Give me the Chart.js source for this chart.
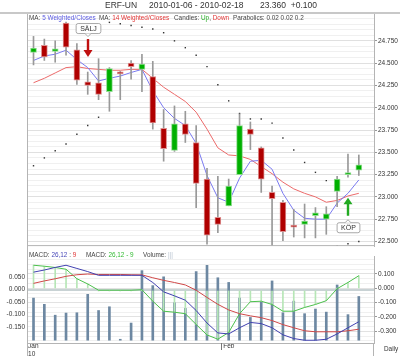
<!DOCTYPE html>
<html><head><meta charset="utf-8">
<script src="https://cdn.jsdelivr.net/npm/chart.js@4.4.1/dist/chart.umd.min.js"></script>
<style>
html,body{margin:0;padding:0;background:#fff}
body{width:400px;height:356px;position:relative;overflow:hidden;font-family:"Liberation Sans",Arial,Helvetica,sans-serif}
canvas{position:absolute;left:0}
#main{top:0}
#macd{top:251px}
.t{position:absolute;white-space:nowrap;line-height:1;color:#444}
</style></head><body>
<canvas id="main" width="400" height="251"></canvas>
<canvas id="macd" width="400" height="105"></canvas>
<div style="position:absolute;left:0;top:12px;width:400px;height:2px;background:#c8c8c8"></div>
<div class="t" style="left:105px;top:1px;font-size:8.5px;color:#333">ERF-UN</div>
<div class="t" style="left:149px;top:1px;font-size:8.5px;color:#333">2010-01-06 - 2010-02-18</div>
<div class="t" style="left:260px;top:1px;font-size:8.5px;color:#333">23.360&nbsp;&nbsp;+0.100</div>
<div class="t" style="left:29px;top:15px;font-size:6.4px">MA: <span style="color:#5a5ae0">5 Weighted/Closes</span></div>
<div class="t" style="left:99px;top:15px;font-size:6.4px">MA: <span style="color:#e03434">14 Weighted/Closes</span></div>
<div class="t" style="left:174px;top:15px;font-size:6.4px">Candles: <span style="color:#22aa22">Up</span>, <span style="color:#e03434">Down</span></div>
<div class="t" style="left:233px;top:15px;font-size:6.4px">Parabolics: 0.02 0.02 0.2</div>
<div class="t" style="left:29px;top:252px;font-size:6.4px">MACD: <span style="color:#4848b8">26,12</span> : <span style="color:#e03434">9</span></div>
<div class="t" style="left:86px;top:252px;font-size:6.4px">MACD: <span style="color:#33bb33">26,12 - 9</span></div>
<div class="t" style="left:143px;top:252px;font-size:6.4px">Volume: <span style="color:#b8c4d0">|||</span></div>
<div class="t" style="left:384px;top:346px;font-size:6.4px;color:#333">Daily</div>
<script>
// ---- data ----
const dates = ['2010-01-06','2010-01-07','2010-01-08','2010-01-11','2010-01-12','2010-01-13','2010-01-14','2010-01-15','2010-01-18','2010-01-19','2010-01-20','2010-01-21','2010-01-22','2010-01-25','2010-01-26','2010-01-27','2010-01-28','2010-01-29','2010-02-01','2010-02-02','2010-02-03','2010-02-04','2010-02-05','2010-02-08','2010-02-09','2010-02-10','2010-02-11','2010-02-12','2010-02-16','2010-02-17','2010-02-18'];
const open  = [24.62,24.70,24.63,24.95,24.65,24.29,24.28,24.18,24.40,24.50,24.43,24.35,23.77,23.52,23.82,23.61,23.20,22.77,22.90,23.25,23.76,23.55,23.05,22.94,22.68,22.69,22.79,22.75,23.06,23.25,23.30];
const high  = [24.80,24.77,24.75,24.96,24.72,24.40,24.55,24.45,24.41,24.53,24.60,24.52,23.98,24.02,23.96,23.80,23.32,23.23,23.20,23.93,23.84,23.56,23.12,22.96,22.86,22.92,22.88,22.89,23.23,23.48,23.47];
const low   = [24.48,24.53,24.51,24.59,24.26,24.15,24.09,23.96,24.09,24.32,24.18,23.76,23.40,23.51,23.61,22.88,22.47,22.60,22.90,23.25,23.53,23.05,22.45,22.51,22.55,22.54,22.54,22.58,22.89,23.22,23.24];
const close = [24.67,24.57,24.66,24.68,24.31,24.25,24.15,24.44,24.38,24.46,24.49,23.83,23.54,23.82,23.70,23.15,22.57,22.69,23.12,23.80,23.70,23.20,22.98,22.61,22.66,22.73,22.82,22.81,23.20,23.26,23.36];
const ma5   = [24.53,24.58,24.60,24.645,24.54,24.45,24.30,24.33,24.355,24.395,24.43,24.19,24.00,23.88,23.80,23.60,23.24,22.99,22.94,23.21,23.40,23.41,23.31,23.04,22.85,22.76,22.75,22.75,22.93,23.04,23.19];
const ma14  = [24.28,24.33,24.39,24.45,24.46,24.44,24.43,24.42,24.42,24.43,24.43,24.33,24.23,24.15,24.07,23.95,23.76,23.55,23.47,23.46,23.42,23.34,23.26,23.165,23.09,23.04,23.00,22.94,22.96,23.01,23.04];
const sar   = [23.349,23.437,23.518,23.593,23.702,23.801,23.893,24.957,24.941,24.922,24.902,24.882,24.841,24.750,24.673,24.588,24.461,24.257,24.077,23.935,23.874,23.874,23.827,23.661,23.526,23.386,23.275,23.182,22.45,22.475,22.50];
const macd  = [0.112,0.127,0.145,0.160,0.138,0.116,0.090,0.090,0.090,0.090,0.090,0.040,-0.025,-0.053,-0.083,-0.155,-0.242,-0.311,-0.318,-0.275,-0.238,-0.246,-0.275,-0.324,-0.350,-0.362,-0.362,-0.355,-0.318,-0.275,-0.233];
const signal= [0.034,0.051,0.066,0.083,0.094,0.099,0.096,0.096,0.096,0.094,0.093,0.073,0.055,0.040,0.023,-0.014,-0.064,-0.112,-0.151,-0.177,-0.192,-0.205,-0.225,-0.253,-0.275,-0.296,-0.303,-0.303,-0.303,-0.296,-0.285];
const hist  = [0.097,0.093,0.088,0.081,0.043,0.022,-0.003,-0.003,-0.003,-0.003,-0.001,-0.047,-0.087,-0.091,-0.097,-0.140,-0.182,-0.199,-0.172,-0.097,-0.049,-0.047,-0.060,-0.087,-0.087,-0.072,-0.060,-0.045,0.003,0.028,0.055];
const volume= [1125,958,668,725,733,1225,793,893,25,458,1858,1458,1693,1000,850,1833,2000,1668,1543,1125,608,1018,1583,733,1043,708,833,750,1475,683,1168];
const priceTicks = [22.5,22.75,23.0,23.25,23.5,23.75,24.0,24.25,24.5,24.75];
const histTicks  = [-0.15,-0.1,-0.05,0,0.05];
const macdTicks  = [-0.3,-0.2,-0.1,0,0.1];
const signals = [{i:5, label:'SÄLJ', dir:'sell'}, {i:29, label:'KÖP', dir:'buy'}];

const FONT = '"Liberation Sans", Arial, sans-serif';
const pts = arr => arr.map((v,i)=>({x:i,y:v}));
const UP='#00b000', DOWN='#b00000';
const isUp = i => close[i] >= open[i];

function minorTicks(lo, hi, step){ const out=[]; for(let k=Math.ceil(lo/step-1e-9); k*step<=hi+1e-9; k++) out.push(+(k*step).toFixed(6)); return out; }
const isIn = (v, arr) => arr.some(t=>Math.abs(t-v)<1e-6);

const frame = {
  id:'frame',
  afterDraw(chart, args, opts){
    const {ctx, chartArea:a} = chart;
    ctx.save();
    ctx.strokeStyle = '#b4b4b4'; ctx.lineWidth = 1;
    if (opts.main) {
      ctx.beginPath(); ctx.moveTo(a.left+0.5, a.top); ctx.lineTo(a.left+0.5, chart.height); ctx.stroke();
      ctx.beginPath(); ctx.moveTo(a.left, a.bottom-0.5); ctx.lineTo(a.right, a.bottom-0.5); ctx.stroke();
      const xs = chart.scales.x, ys = chart.scales.y;
      signals.forEach(s=>{
        const x = Math.round(xs.getPixelForValue(s.i));
        ctx.font = '7px ' + FONT;
        const tw = ctx.measureText(s.label).width;
        const bw = tw + 8, bh = 10;
        if (s.dir==='sell') {
          const tip = ys.getPixelForValue(high[s.i]) - 15;
          ctx.fillStyle = '#c01010';
          ctx.fillRect(x-1.2, tip-18, 2.4, 12);
          ctx.beginPath(); ctx.moveTo(x-4.5, tip-7); ctx.lineTo(x+4.5, tip-7); ctx.lineTo(x, tip); ctx.closePath(); ctx.fill();
          const bb = tip - 24, bt = bb - bh;
          drawBox(ctx, x, bt, bw, bh, 'down', s.label);
        } else {
          const tip = ys.getPixelForValue(low[s.i]) + 20.5;
          ctx.fillStyle = '#22aa22';
          ctx.fillRect(x-1.2, tip+6, 2.4, 12);
          ctx.beginPath(); ctx.moveTo(x-4.5, tip+6.5); ctx.lineTo(x+4.5, tip+6.5); ctx.lineTo(x, tip); ctx.closePath(); ctx.fill();
          drawBox(ctx, x, tip+24.5, bw, bh, 'up', s.label);
        }
      });
    } else {
      ctx.beginPath(); ctx.moveTo(a.left, a.bottom+0.5); ctx.lineTo(a.right, a.bottom+0.5); ctx.stroke();
      ctx.beginPath(); ctx.moveTo(a.left+0.5, 0); ctx.lineTo(a.left+0.5, chart.height); ctx.stroke();
      ctx.beginPath(); ctx.moveTo(a.right-0.5, a.bottom); ctx.lineTo(a.right-0.5, chart.height); ctx.stroke();
      const xs = chart.scales.x;
      xs.ticks.forEach((t,k)=>{ if(k>0){ const px=Math.round(xs.getPixelForValue(t.value))-1.5; ctx.strokeStyle='#777'; ctx.beginPath(); ctx.moveTo(px,a.bottom); ctx.lineTo(px,a.bottom+7); ctx.stroke(); }});
    }
    ctx.restore();
  }
};
function drawBox(ctx, cx, top, w, h, ptr, label){
  const l = cx - w/2;
  ctx.save();
  ctx.fillStyle = '#fff'; ctx.strokeStyle = '#a8a8a8'; ctx.lineWidth = 1;
  ctx.beginPath();
  if (ctx.roundRect) ctx.roundRect(l+0.5, top+0.5, w, h, 2); else ctx.rect(l+0.5, top+0.5, w, h);
  ctx.fill(); ctx.stroke();
  ctx.beginPath();
  if (ptr==='down'){ ctx.moveTo(cx-3, top+h+0.5); ctx.lineTo(cx, top+h+3.5); ctx.lineTo(cx+3, top+h+0.5); }
  else { ctx.moveTo(cx-3, top+0.5); ctx.lineTo(cx, top-2.5); ctx.lineTo(cx+3, top+0.5); }
  ctx.fill(); ctx.stroke();
  ctx.fillStyle = '#333'; ctx.font = '7px ' + FONT; ctx.textAlign='center'; ctx.textBaseline='middle';
  ctx.fillText(label, cx+0.5, top + h/2 + 1);
  ctx.restore();
}

Chart.defaults.font.family = FONT;

new Chart(document.getElementById('main'), {
  type: 'bar',
  data: { datasets: [
    {type:'line', data: pts(sar), showLine:false, pointRadius:1, pointStyle:'rect', pointBackgroundColor:'#333', pointBorderWidth:0, order:5},
    {type:'line', data: pts(ma14), borderColor:'#ec6a6a', borderWidth:1, pointRadius:0, tension:0, order:4},
    {type:'line', data: pts(ma5), borderColor:'#7a7af0', borderWidth:1, pointRadius:0, tension:0, order:3},
    {type:'bar', data: low.map((l,i)=>({x:i, y:[l, high[i]]})), barThickness:1, backgroundColor:'#999', grouped:false, order:2},
    {type:'bar', data: open.map((o,i)=>({x:i, y:[o, close[i]]})), barThickness:6, minBarLength:2, grouped:false, borderSkipped:false, borderWidth:1,
      backgroundColor: open.map((o,i)=>isUp(i)?UP:DOWN), borderColor: open.map((o,i)=>isUp(i)?'#8fdc8f':'#dc9090'), order:1}
  ]},
  options: {
    responsive:false, animation:false, devicePixelRatio:1, events:[],
    layout:{padding:{left:27, top:14, right:0, bottom:1}},
    plugins:{legend:{display:false}, tooltip:{enabled:false}, frame:{main:true}},
    scales:{
      x:{type:'linear', display:false, offset:false, min:-0.6, max:dates.length+0.4},
      y:{position:'right', min:22.448, max:25.051,
        afterBuildTicks: s => { s.ticks = minorTicks(22.448, 25.051, 0.0625).map(v=>({value:v})); },
        afterFit: s => { s.width = 26; },
        ticks:{ font:{size:6.5}, color:'#333', padding:1, autoSkip:false,
          callback: v => isIn(v, priceTicks) ? v.toFixed(3) : '' },
        grid:{ color: c => isIn(c.tick.value, priceTicks) ? '#e0e0e0' : '#f0f0f0', tickLength:3,
          tickColor: c => isIn(c.tick.value, priceTicks) ? '#999' : 'rgba(0,0,0,0)' },
        border:{color:'#b4b4b4', width:1}
      }
    }
  },
  plugins:[frame]
});

const monthNames = ['Jan','Feb','Mar','Apr','May','Jun','Jul','Aug','Sep','Oct','Nov','Dec'];
const monthStarts = dates.map((d,i)=>i).filter(i => i===0 || dates[i].slice(5,7)!==dates[i-1].slice(5,7));
function monthLabel(v){
  const i = Math.round(v+0.5);
  const m = monthNames[+dates[i].slice(5,7)-1];
  return i===0 ? [m, dates[i].slice(2,4)] : m;
}

new Chart(document.getElementById('macd'), {
  type: 'bar',
  data: { datasets: [
    {type:'bar', yAxisID:'yV', data: pts(volume), barThickness:2, backgroundColor:'#6d88a2', grouped:false, order:6},
    {type:'bar', yAxisID:'yL', data: pts(hist), barThickness:1, backgroundColor:'#b6e6b6', grouped:false, order:5},
    {type:'line', yAxisID:'yL', data: pts(hist), borderColor:'#4cc04c', borderWidth:1, pointRadius:0, tension:0, order:4},
    {type:'line', yAxisID:'yR', data: pts(signal), borderColor:'#d04848', borderWidth:1, pointRadius:0, tension:0, order:3},
    {type:'line', yAxisID:'yR', data: pts(macd), borderColor:'#4040b0', borderWidth:1, pointRadius:0, tension:0, order:2}
  ]},
  options: {
    responsive:false, animation:false, devicePixelRatio:1, events:[],
    layout:{padding:0},
    plugins:{legend:{display:false}, tooltip:{enabled:false}, frame:{main:false}},
    scales:{
      x:{type:'linear', position:'bottom', offset:false, min:-0.6, max:dates.length+0.4,
        afterBuildTicks: s => { s.ticks = monthStarts.map(i=>({value:i-0.5})); },
        afterFit: s => { s.height = 13; },
        ticks:{ autoSkip:false, maxRotation:0, minRotation:0, align:'start', padding:0, font:{size:6.5, lineHeight:1.1}, color:'#333',
          callback: v => monthLabel(v) },
        grid:{display:false, drawTicks:false, tickLength:0}, border:{display:false}
      },
      yL:{position:'left', min:-0.2142, max:0.1303,
        afterBuildTicks: s => { s.ticks = histTicks.map(v=>({value:v})); },
        afterFit: s => { s.width = 27; },
        ticks:{ font:{size:6.5}, color:'#333', padding:2, autoSkip:false, callback: v => v.toFixed(3) },
        grid:{ drawTicks:false, color: c => Math.abs(c.tick.value)<1e-9 ? '#c8d2d4' : 'rgba(0,0,0,0)', lineWidth: c => Math.abs(c.tick.value)<1e-9 ? 3 : 1 },
        border:{color:'#b4b4b4', width:1}
      },
      yR:{position:'right', min:-0.3811, max:0.2182,
        afterBuildTicks: s => { s.ticks = minorTicks(-0.3811, 0.2182, 0.1/3).map(v=>({value:v})); },
        afterFit: s => { s.width = 26; },
        ticks:{ font:{size:6.5}, color:'#333', padding:1, autoSkip:false,
          callback: v => isIn(v, macdTicks) ? v.toFixed(3) : '' },
        grid:{ color: c => isIn(c.tick.value, macdTicks) ? '#e2e2e2' : '#f0f0f0', tickLength:3,
          tickColor: c => isIn(c.tick.value, macdTicks) ? '#999' : 'rgba(0,0,0,0)' },
        border:{color:'#b4b4b4', width:1}
      },
      yV:{display:false, min:-75, max:2225}
    }
  },
  plugins:[frame]
});
</script>
</body></html>
